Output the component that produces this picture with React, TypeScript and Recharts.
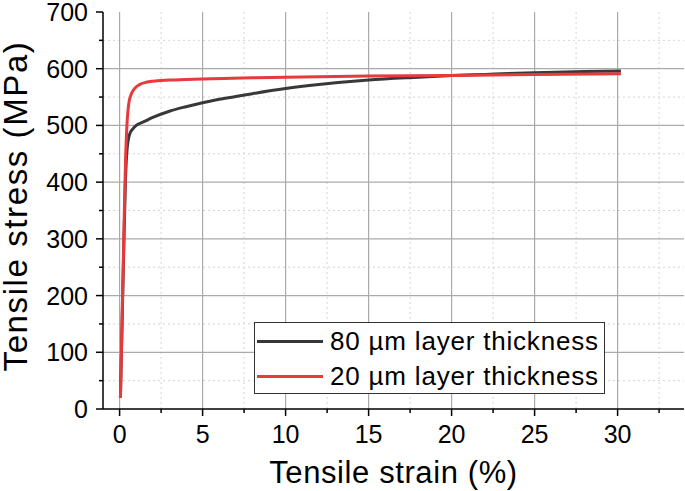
import React from "react";
import {
  LineChart,
  Line,
  XAxis,
  YAxis,
  CartesianGrid,
} from "recharts";

const FONT = "'Liberation Sans', Arial, sans-serif";

// 80 µm layer thickness
const strain80 = [0.05, 0.15, 0.25, 0.35, 0.45, 0.6, 0.8, 1, 1.5, 2, 3, 4, 5, 6, 7, 8, 10, 12, 15, 18, 20, 22, 25, 28, 30.2];
const stress80 = [20, 150, 280, 400, 458, 484, 494, 500, 507, 514, 525, 533, 540, 546, 551, 556, 565, 572, 580, 585, 588, 590, 593, 595, 596];

// 20 µm layer thickness
const strain20 = [0.05, 0.15, 0.25, 0.35, 0.45, 0.55, 0.7, 0.9, 1.2, 1.6, 2, 3, 5, 8, 10, 15, 20, 25, 30.2];
const stress20 = [20, 160, 300, 430, 505, 538, 555, 565, 572, 576, 578, 580, 582, 584, 585, 587, 588, 590, 591];

const seriesNames = ["80 µm layer thickness", "20 µm layer thickness"];
const seriesColors = ["#383838", "#e8393b"];

const xTicks = [0, 2.5, 5, 7.5, 10, 12.5, 15, 17.5, 20, 22.5, 25, 27.5, 30, 32.5];
const yTicks = [0, 50, 100, 150, 200, 250, 300, 350, 400, 450, 500, 550, 600, 650, 700];
const xMajor = [0, 5, 10, 15, 20, 25, 30];
const xMinor = [2.5, 7.5, 12.5, 17.5, 22.5, 27.5, 32.5];
const yMajor = [100, 200, 300, 400, 500, 600];
const yMinor = [50, 150, 250, 350, 450, 550, 650];

const data80 = strain80.map((x, i) => ({ x, y: stress80[i] }));
const data20 = strain20.map((x, i) => ({ x, y: stress20[i] }));

const XTick = (props: any) => {
  const { x, y, payload } = props;
  const major = payload.value % 5 === 0;
  return (
    <g>
      <line x1={x} x2={x} y1={y} y2={y + (major ? 7 : 4)} stroke="#000" strokeWidth={1.5} />
      {major && (
        <text x={x} y={y + 34} textAnchor="middle" fontSize={25} fontFamily={FONT} fill="#000">
          {payload.value}
        </text>
      )}
    </g>
  );
};

const YTick = (props: any) => {
  const { x, y, payload } = props;
  const major = payload.value % 100 === 0;
  return (
    <g>
      <line x1={x} x2={x - (major ? 7 : 4)} y1={y} y2={y} stroke="#000" strokeWidth={1.5} />
      {major && (
        <text x={x - 15} y={y + 9} textAnchor="end" fontSize={25} fontFamily={FONT} fill="#000">
          {payload.value}
        </text>
      )}
    </g>
  );
};

const YTitle = () => (
  <text
    transform="translate(27,206) rotate(-90)"
    textAnchor="middle"
    fontSize={33}
    letterSpacing={1.6}
    fontFamily={FONT}
    fill="#000"
  >
    Tensile stress (MPa)
  </text>
);

function LegendBox() {
  return (
    <div
      style={{
        position: "absolute",
        left: 254,
        top: 322,
        width: 349,
        height: 70,
        border: "1px solid #333",
        background: "#fff",
        fontFamily: FONT,
        fontSize: 26,
        letterSpacing: 0.8,
        color: "#000",
      }}
    >
      {seriesNames.map((name, i) => (
        <div key={name} style={{ display: "flex", alignItems: "center", height: 33, marginTop: 2 }}>
          <div style={{ width: 66, height: 3, background: seriesColors[i], marginLeft: 2, marginRight: 7 }} />
          <span>{name}</span>
        </div>
      ))}
    </div>
  );
}

export default function App() {
  return (
    <div style={{ position: "absolute", left: 0, top: 0, width: 685, height: 491, background: "#fff" }}>
      <LineChart width={685} height={491} margin={{ top: 12, right: 1, bottom: 0, left: 0 }}>
        <CartesianGrid
          verticalValues={xMinor}
          horizontalValues={yMinor}
          stroke="#d4d4d4"
          strokeDasharray="2 3"
        />
        <CartesianGrid verticalValues={xMajor} horizontalValues={yMajor} stroke="#aaa" strokeWidth={1.2} />
        <XAxis
          dataKey="x"
          type="number"
          domain={[-1, 34]}
          ticks={xTicks}
          interval={0}
          allowDataOverflow
          height={82}
          tickSize={0}
          tickMargin={0}
          tickLine={false}
          tick={<XTick />}
          axisLine={{ stroke: "#000", strokeWidth: 1.5 }}
          label={{
            value: "Tensile strain (%)",
            position: "insideBottom",
            offset: 8,
            fontSize: 31,
            fontFamily: FONT,
            fill: "#000",
            style: { letterSpacing: 0.6 },
          }}
        />
        <XAxis
          xAxisId="top"
          orientation="top"
          type="number"
          domain={[-1, 34]}
          height={0}
          tick={false}
          tickLine={false}
          axisLine={{ stroke: "#000", strokeWidth: 1.5 }}
        />
        <YAxis
          type="number"
          domain={[0, 700]}
          ticks={yTicks}
          interval={0}
          width={103}
          tickSize={0}
          tickMargin={0}
          tickLine={false}
          tick={<YTick />}
          axisLine={{ stroke: "#000", strokeWidth: 1.5 }}
          label={{ content: <YTitle /> }}
        />
        <YAxis
          yAxisId="right"
          orientation="right"
          type="number"
          domain={[0, 700]}
          width={0}
          tick={false}
          tickLine={false}
          axisLine={{ stroke: "#000", strokeWidth: 1.5 }}
        />
        <Line
          data={data80}
          dataKey="y"
          name={seriesNames[0]}
          type="monotone"
          stroke={seriesColors[0]}
          strokeWidth={3}
          dot={false}
          isAnimationActive={false}
        />
        <Line
          data={data20}
          dataKey="y"
          name={seriesNames[1]}
          type="monotone"
          stroke={seriesColors[1]}
          strokeWidth={3}
          dot={false}
          isAnimationActive={false}
        />
      </LineChart>
      <LegendBox />
    </div>
  );
}
